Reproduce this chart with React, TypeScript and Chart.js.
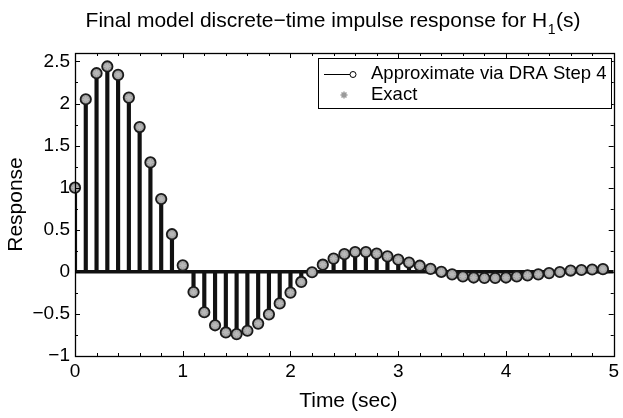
import React, { useEffect, useRef } from 'react';
import { Chart, registerables } from 'chart.js';

Chart.register(...registerables);

// ---- data ----
const times = [
  0, 0.1, 0.2, 0.3, 0.4, 0.5, 0.6, 0.7, 0.8, 0.9,
  1.0, 1.1, 1.2, 1.3, 1.4, 1.5, 1.6, 1.7, 1.8, 1.9,
  2.0, 2.1, 2.2, 2.3, 2.4, 2.5, 2.6, 2.7, 2.8, 2.9,
  3.0, 3.1, 3.2, 3.3, 3.4, 3.5, 3.6, 3.7, 3.8, 3.9,
  4.0, 4.1, 4.2, 4.3, 4.4, 4.5, 4.6, 4.7, 4.8, 4.9,
];
const approxValues = [
  1.0, 2.05, 2.36, 2.44, 2.34, 2.07, 1.72, 1.3, 0.865, 0.447,
  0.077, -0.24, -0.48, -0.635, -0.72, -0.74, -0.7, -0.615, -0.505, -0.375,
  -0.247, -0.12, -0.005, 0.085, 0.157, 0.21, 0.235, 0.235, 0.216, 0.184,
  0.145, 0.11, 0.073, 0.035, 0.0, -0.03, -0.055, -0.068, -0.073, -0.073,
  -0.068, -0.055, -0.042, -0.03, -0.015, -0.002, 0.015, 0.022, 0.028, 0.032,
];
const exactValues = [
  1.0, 2.05, 2.36, 2.44, 2.34, 2.07, 1.72, 1.3, 0.865, 0.447,
  0.077, -0.24, -0.48, -0.635, -0.72, -0.74, -0.7, -0.615, -0.505, -0.375,
  -0.247, -0.12, -0.005, 0.085, 0.157, 0.21, 0.235, 0.235, 0.216, 0.184,
  0.145, 0.11, 0.073, 0.035, 0.0, -0.03, -0.055, -0.068, -0.073, -0.073,
  -0.068, -0.055, -0.042, -0.03, -0.015, -0.002, 0.015, 0.022, 0.028, 0.032,
];
const xTicks = [0, 1, 2, 3, 4, 5];
const xMinorTicks = [0.2, 0.4, 0.6, 0.8, 1.2, 1.4, 1.6, 1.8, 2.2, 2.4, 2.6, 2.8, 3.2, 3.4, 3.6, 3.8, 4.2, 4.4, 4.6, 4.8];
const yTicks = [-1, -0.5, 0, 0.5, 1, 1.5, 2, 2.5];
const yMinorTicks = [-0.75, -0.25, 0.25, 0.75, 1.25, 1.75, 2.25];
const yMin = -1;
const yMax = 2.6;

const titleMain = 'Final model discrete\u2212time impulse response for H';
const titleSub = '1';
const titleEnd = '(s)';
const xLabel = 'Time (sec)';
const yLabel = 'Response';
const legendLabels = ['Approximate via DRA Step 4', 'Exact'];

const FONT = '"Liberation Sans", Arial, Helvetica, sans-serif';
const TICK_FS = 19;
const TITLE_FS = 21;
const LABEL_FS = 21;
const LEGEND_FS = 18.5;

const fmt = (v: number) => (v < 0 ? '\u2212' + Math.abs(v) : String(v));

const decor = {
  id: 'decor',
  afterDatasetsDraw(chart: any) {
    const { ctx, chartArea: a, scales } = chart;
    const x = scales.x;
    const y = scales.y;
    ctx.save();
    ctx.strokeStyle = '#000';
    ctx.lineWidth = 1;
    ctx.beginPath();
    const tickX = (v: number, len: number) => {
      const px = Math.round(x.getPixelForValue(v)) + 0.5;
      ctx.moveTo(px, a.bottom);
      ctx.lineTo(px, a.bottom - len);
      ctx.moveTo(px, a.top);
      ctx.lineTo(px, a.top + len);
    };
    const tickY = (v: number, len: number) => {
      const py = Math.round(y.getPixelForValue(v)) + 0.5;
      ctx.moveTo(a.left, py);
      ctx.lineTo(a.left + len, py);
      ctx.moveTo(a.right, py);
      ctx.lineTo(a.right - len, py);
    };
    xTicks.forEach((v) => tickX(v, 5));
    xMinorTicks.forEach((v) => tickX(v, 3));
    yTicks.forEach((v) => tickY(v, 5));
    yMinorTicks.forEach((v) => tickY(v, 3));
    ctx.stroke();
    ctx.lineWidth = 1.3;
    ctx.strokeRect(Math.round(a.left) + 0.5, Math.round(a.top) + 0.5, Math.round(a.width), Math.round(a.height));
    ctx.restore();
  },
  afterDraw(chart: any) {
    const { ctx, chartArea: a } = chart;
    ctx.save();
    ctx.fillStyle = '#000';
    // title
    const subFs = 14;
    ctx.font = `${TITLE_FS}px ${FONT}`;
    const w1 = ctx.measureText(titleMain).width;
    ctx.font = `${subFs}px ${FONT}`;
    const w2 = ctx.measureText(titleSub).width;
    ctx.font = `${TITLE_FS}px ${FONT}`;
    const w3 = ctx.measureText(titleEnd).width;
    const total = w1 + w2 + w3 + 1;
    const tx = 333 - total / 2;
    ctx.textBaseline = 'alphabetic';
    ctx.textAlign = 'left';
    ctx.fillText(titleMain, tx, 27);
    ctx.font = `${subFs}px ${FONT}`;
    ctx.fillText(titleSub, tx + w1 + 0.5, 34);
    ctx.font = `${TITLE_FS}px ${FONT}`;
    ctx.fillText(titleEnd, tx + w1 + w2 + 1, 27);

    // axis labels
    ctx.font = `${LABEL_FS}px ${FONT}`;
    ctx.textAlign = 'center';
    ctx.textBaseline = 'middle';
    ctx.fillText(xLabel, (a.left + a.right) / 2 + 4, 401);
    ctx.save();
    ctx.translate(16, (a.top + a.bottom) / 2);
    ctx.rotate(-Math.PI / 2);
    ctx.fillText(yLabel, 0, 0);
    ctx.restore();

    // legend
    const lx = 318, ly = 58, lw = 293, lh = 50;
    ctx.fillStyle = '#fff';
    ctx.fillRect(lx, ly, lw, lh);
    ctx.strokeStyle = '#000';
    ctx.lineWidth = 1;
    ctx.strokeRect(lx + 0.5, ly + 0.5, lw, lh);
    const r1 = 74, r2 = 95;
    ctx.beginPath();
    ctx.moveTo(324, r1 + 0.5);
    ctx.lineTo(350, r1 + 0.5);
    ctx.stroke();
    ctx.beginPath();
    ctx.arc(353, r1 + 0.5, 3, 0, Math.PI * 2);
    ctx.fillStyle = '#fff';
    ctx.fill();
    ctx.stroke();
    // asterisk marker
    ctx.strokeStyle = '#9a9a9a';
    ctx.lineWidth = 1.5;
    ctx.beginPath();
    const cx = 344, cy = r2, rr = 3.5;
    for (let k = 0; k < 4; k++) {
      const ang = (k * Math.PI) / 4;
      ctx.moveTo(cx - rr * Math.cos(ang), cy - rr * Math.sin(ang));
      ctx.lineTo(cx + rr * Math.cos(ang), cy + rr * Math.sin(ang));
    }
    ctx.stroke();
    ctx.fillStyle = '#000';
    ctx.textAlign = 'left';
    ctx.font = `${LEGEND_FS}px ${FONT}`;
    ctx.fillText(legendLabels[0], 371, r1);
    ctx.fillText(legendLabels[1], 371, r2);
    ctx.restore();
  },
};

export default function App() {
  const ref = useRef<HTMLCanvasElement | null>(null);
  useEffect(() => {
    if (!ref.current) return;
    Chart.defaults.font.family = FONT;
    const stems = times.map((t, i) => ({ x: t, y: approxValues[i] }));
    const approxPts = times.map((t, i) => ({ x: t, y: approxValues[i] }));
    const exactPts = times.map((t, i) => ({ x: t, y: exactValues[i] }));
    const baseline = [
      { x: xTicks[0], y: 0 },
      { x: xTicks[xTicks.length - 1], y: 0 },
    ];
    const chart = new Chart(ref.current, {
      type: 'bar',
      data: {
        datasets: [
          {
            type: 'bar',
            label: 'stems',
            data: stems as any,
            backgroundColor: '#111',
            borderWidth: 0,
            barThickness: 3.5,
            grouped: false,
            order: 4,
          } as any,
          {
            type: 'line',
            label: 'baseline',
            data: baseline as any,
            borderColor: '#111',
            borderWidth: 3.5,
            pointRadius: 0,
            order: 3,
          } as any,
          {
            type: 'scatter',
            label: legendLabels[0],
            data: approxPts as any,
            pointStyle: 'circle',
            pointRadius: 5.2,
            backgroundColor: '#9c9c9c',
            borderColor: '#1a1a1a',
            borderWidth: 1.8,
            showLine: false,
            clip: false,
            order: 2,
          } as any,
          {
            type: 'scatter',
            label: legendLabels[1],
            data: exactPts as any,
            pointStyle: 'star',
            pointRadius: 3.5,
            borderColor: '#b8b8b8',
            backgroundColor: '#b8b8b8',
            borderWidth: 1.2,
            showLine: false,
            clip: false,
            order: 1,
          } as any,
        ],
      },
      options: {
        animation: false,
        responsive: false,
        events: [],
        layout: { padding: { left: 0, top: 53, right: 8, bottom: 0 } },
        plugins: { legend: { display: false }, tooltip: { enabled: false }, title: { display: false } },
        scales: {
          x: {
            type: 'linear',
            min: xTicks[0],
            max: xTicks[xTicks.length - 1],
            offset: false,
            grid: { display: false, drawTicks: false },
            border: { display: false },
            afterBuildTicks: (s: any) => {
              s.ticks = xTicks.map((v) => ({ value: v }));
            },
            afterFit: (s: any) => {
              s.height = 62;
            },
            ticks: {
              color: '#000',
              font: { size: TICK_FS, family: FONT },
              padding: 4,
              maxRotation: 0,
              autoSkip: false,
              callback: (v: any) => fmt(Number(v)),
            },
          },
          y: {
            type: 'linear',
            min: yMin,
            max: yMax,
            grid: { display: false, drawTicks: false },
            border: { display: false },
            afterBuildTicks: (s: any) => {
              s.ticks = yTicks.map((v) => ({ value: v }));
            },
            afterFit: (s: any) => {
              s.width = 75;
            },
            ticks: {
              color: '#000',
              font: { size: TICK_FS, family: FONT },
              padding: 5,
              autoSkip: false,
              callback: (v: any) => fmt(Number(v)),
            },
          },
        },
      } as any,
      plugins: [decor],
    });
    return () => chart.destroy();
  }, []);
  return (
    <div style={{ position: 'fixed', left: 0, top: 0, width: 623, height: 418, background: '#fff' }}>
      <canvas ref={ref} width={623} height={418} style={{ width: 623, height: 418 }} />
    </div>
  );
}
